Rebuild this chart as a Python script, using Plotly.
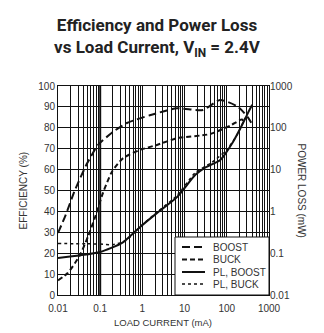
import plotly.graph_objects as go

# ---- data ----
boost_x = [0.01, 0.015, 0.025, 0.049, 0.089, 0.2, 0.43, 1.5, 6.6, 27, 69, 186, 316, 417]
boost_eff = [29.7, 38, 50, 63, 71.8, 78, 82.3, 86, 89.3, 88.5, 93.3, 90, 85, 81]

buck_x = [0.01, 0.017, 0.033, 0.051, 0.075, 0.117, 0.19, 0.35, 0.87, 2.2, 6.6, 40, 120, 230, 250]
buck_eff = [7, 10.5, 19, 27.8, 37, 49, 59, 65.5, 69.4, 71.8, 75, 77, 81, 84, 82]

plb_x = [0.01, 0.033, 0.1, 0.33, 0.87, 2.2, 6.6, 18, 30, 70, 140, 230, 316, 400]
plb_mw = [0.077, 0.089, 0.107, 0.176, 0.42, 0.91, 2.2, 7.5, 11, 17, 46, 117, 225, 355]

plk_x = [0.01, 0.05, 0.1, 0.2, 0.4, 1, 2.2, 6.6, 18, 45, 100, 174, 270]
plk_mw = [0.17, 0.168, 0.165, 0.16, 0.2, 0.48, 0.95, 2.4, 8.5, 15, 30, 67, 170]

series_names = ["BOOST", "BUCK", "PL, BOOST", "PL, BUCK"]
left_ticks = list(range(0, 101, 10))
right_ticks = [0.01, 0.1, 1, 10, 100, 1000]
right_labels = ["0.01", "0.1", "1", "10", "100", "1000"]
x_ticks = [0.01, 0.1, 1, 10, 100, 1000]
x_labels = ["0.01", "0.1", "1", "10", "100", "1000"]
heavy_grid_x = 0.1

INK = "#111111"
TXT = "#333333"
FONT = "Liberation Sans, Arial, sans-serif"

fig = go.Figure()
fig.add_trace(go.Scatter(x=boost_x, y=boost_eff, mode="lines", name=series_names[0],
                         line=dict(color=INK, width=2, dash="8px,4px", shape="spline", smoothing=0.6)))
fig.add_trace(go.Scatter(x=buck_x, y=buck_eff, mode="lines", name=series_names[1],
                         line=dict(color=INK, width=2, dash="5px,3px", shape="spline", smoothing=0.6)))
fig.add_trace(go.Scatter(x=plb_x, y=plb_mw, mode="lines", name=series_names[2], yaxis="y2",
                         line=dict(color=INK, width=2, shape="spline", smoothing=0.6)))
fig.add_trace(go.Scatter(x=plk_x, y=plk_mw, mode="lines", name=series_names[3], yaxis="y2",
                         line=dict(color=INK, width=1.5, dash="dot", shape="spline", smoothing=0.6)))

# manual legend (key samples + labels) in paper coordinates
L, R, T, B = 58, 269, 86, 295
W, H = R - L, B - T
def px(x): return (x - L) / W
def py(y): return (B - y) / H

shapes = [
    dict(type="line", xref="x", yref="paper", x0=heavy_grid_x, x1=heavy_grid_x, y0=0, y1=1,
         line=dict(color=INK, width=2), layer="below"),
    dict(type="rect", xref="paper", yref="paper", x0=px(175), x1=px(269), y0=py(295), y1=py(237),
         line=dict(color=INK, width=1), fillcolor="white", layer="above"),
]
rows = [247, 259.5, 272, 284]
dashes = ["8px,4px", "5px,3px", "solid", "dot"]
widths = [2, 2, 2, 1.5]
annotations = []
for name, yy, d, w in zip(series_names, rows, dashes, widths):
    shapes.append(dict(type="line", xref="paper", yref="paper", x0=px(182), x1=px(205), y0=py(yy), y1=py(yy),
                       line=dict(color=INK, width=w, dash=d), layer="above"))
    annotations.append(dict(text=name, xref="paper", yref="paper", x=px(211), y=py(yy), xanchor="left",
                            yanchor="middle", showarrow=False, font=dict(size=10, color=TXT, family=FONT)))

annotations += [
    dict(text="EFFICIENCY (%)", xref="paper", yref="paper", x=px(23), y=0.5, textangle=-90,
         xanchor="center", yanchor="middle",
         showarrow=False, font=dict(size=10, color=TXT, family=FONT)),
    dict(text="POWER LOSS (mW)", xref="paper", yref="paper", x=px(301), y=0.5, textangle=90,
         xanchor="center", yanchor="middle",
         showarrow=False, font=dict(size=10, color=TXT, family=FONT)),
    dict(text="LOAD CURRENT (mA)", xref="paper", yref="paper", x=px(163), y=py(322),
         xanchor="center", yanchor="middle",
         showarrow=False, font=dict(size=9.5, color=TXT, family=FONT)),
]

fig.update_layout(
    width=324, height=333,
    margin=dict(l=L, r=324 - R, t=T, b=333 - B),
    paper_bgcolor="white", plot_bgcolor="white",
    showlegend=False,
    title=dict(text="<b>Efficiency and Power Loss<br>vs Load Current, V<sub>IN</sub> = 2.4V</b>",
               x=157 / 324, xanchor="center", xref="container",
               y=1 - 31 / 333, yanchor="top", yref="container",
               font=dict(family="Roboto, Liberation Sans, sans-serif",
                         size=17, color="#222222")),
    xaxis=dict(type="log", range=[-2, 3], tickvals=x_ticks, ticktext=x_labels,
               showgrid=True, gridcolor=INK, gridwidth=1,
               minor=dict(dtick="D1", showgrid=True, gridcolor=INK, gridwidth=1),
               showline=True, linecolor=INK, linewidth=1, mirror=True,
               ticks="", ticklabelstandoff=4,
               tickfont=dict(size=10, color=TXT, family=FONT), zeroline=False),
    yaxis=dict(range=[0, 100], tickvals=left_ticks, showgrid=True, gridcolor=INK, gridwidth=1,
               showline=True, linecolor=INK, linewidth=1, mirror=True,
               ticks="", tickfont=dict(size=10, color=TXT, family=FONT), zeroline=False),
    yaxis2=dict(type="log", range=[-2, 3], overlaying="y", side="right",
                tickvals=right_ticks, ticktext=right_labels, showgrid=False,
                ticks="inside", ticklen=4, tickcolor=INK,
                tickfont=dict(size=10, color=TXT, family=FONT), zeroline=False),
    shapes=shapes,
    annotations=annotations,
)

fig.write_html("out.html")
